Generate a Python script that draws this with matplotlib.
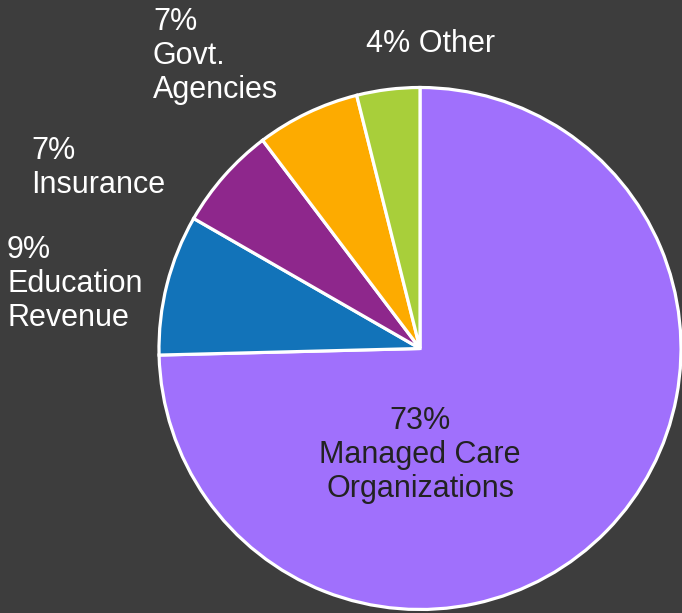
import matplotlib
matplotlib.use("Agg")
import matplotlib.pyplot as plt

categories = ["Managed Care\nOrganizations", "Education\nRevenue", "Insurance",
              "Govt.\nAgencies", "Other"]
values = [74.6, 8.7, 6.4, 6.4, 3.9]
pct_labels = ["73%", "9%", "7%", "7%", "4%"]
colors = ["#a070fc", "#1273b9", "#8e278c", "#fdab00", "#a8cf3a"]

bg = "#3d3d3d"
W, H = 682, 613
fig = plt.figure(figsize=(W / 100, H / 100), dpi=100, facecolor=bg)
ax = fig.add_axes([0, 0, 1, 1])
ax.set_facecolor(bg)

ax.pie(values, colors=colors, startangle=90, counterclock=False,
       center=(420, H - 348.5), radius=261,
       wedgeprops=dict(edgecolor="white", linewidth=2.3))
ax.set_xlim(0, W)
ax.set_ylim(0, H)
ax.axis("off")

font = dict(family=["Liberation Sans", "DejaVu Sans"], fontsize=22)

# outside labels, left aligned, positions in pixels from top-left
outside = {1: (7, 235), 2: (31, 136), 3: (153, 7)}
for i, (px, py) in outside.items():
    ax.text(px, H - py, pct_labels[i] + "\n" + categories[i], color="white",
            ha="left", va="top", linespacing=1.17, **font)

ax.text(366, H - 44, pct_labels[4] + " " + categories[4], color="white",
        ha="left", va="center", **font)

ax.text(420, H - 455, pct_labels[0] + "\n" + categories[0], color="#222222",
        ha="center", va="center", linespacing=1.18, **font)

fig.savefig("out.png", dpi=100, facecolor=bg)
